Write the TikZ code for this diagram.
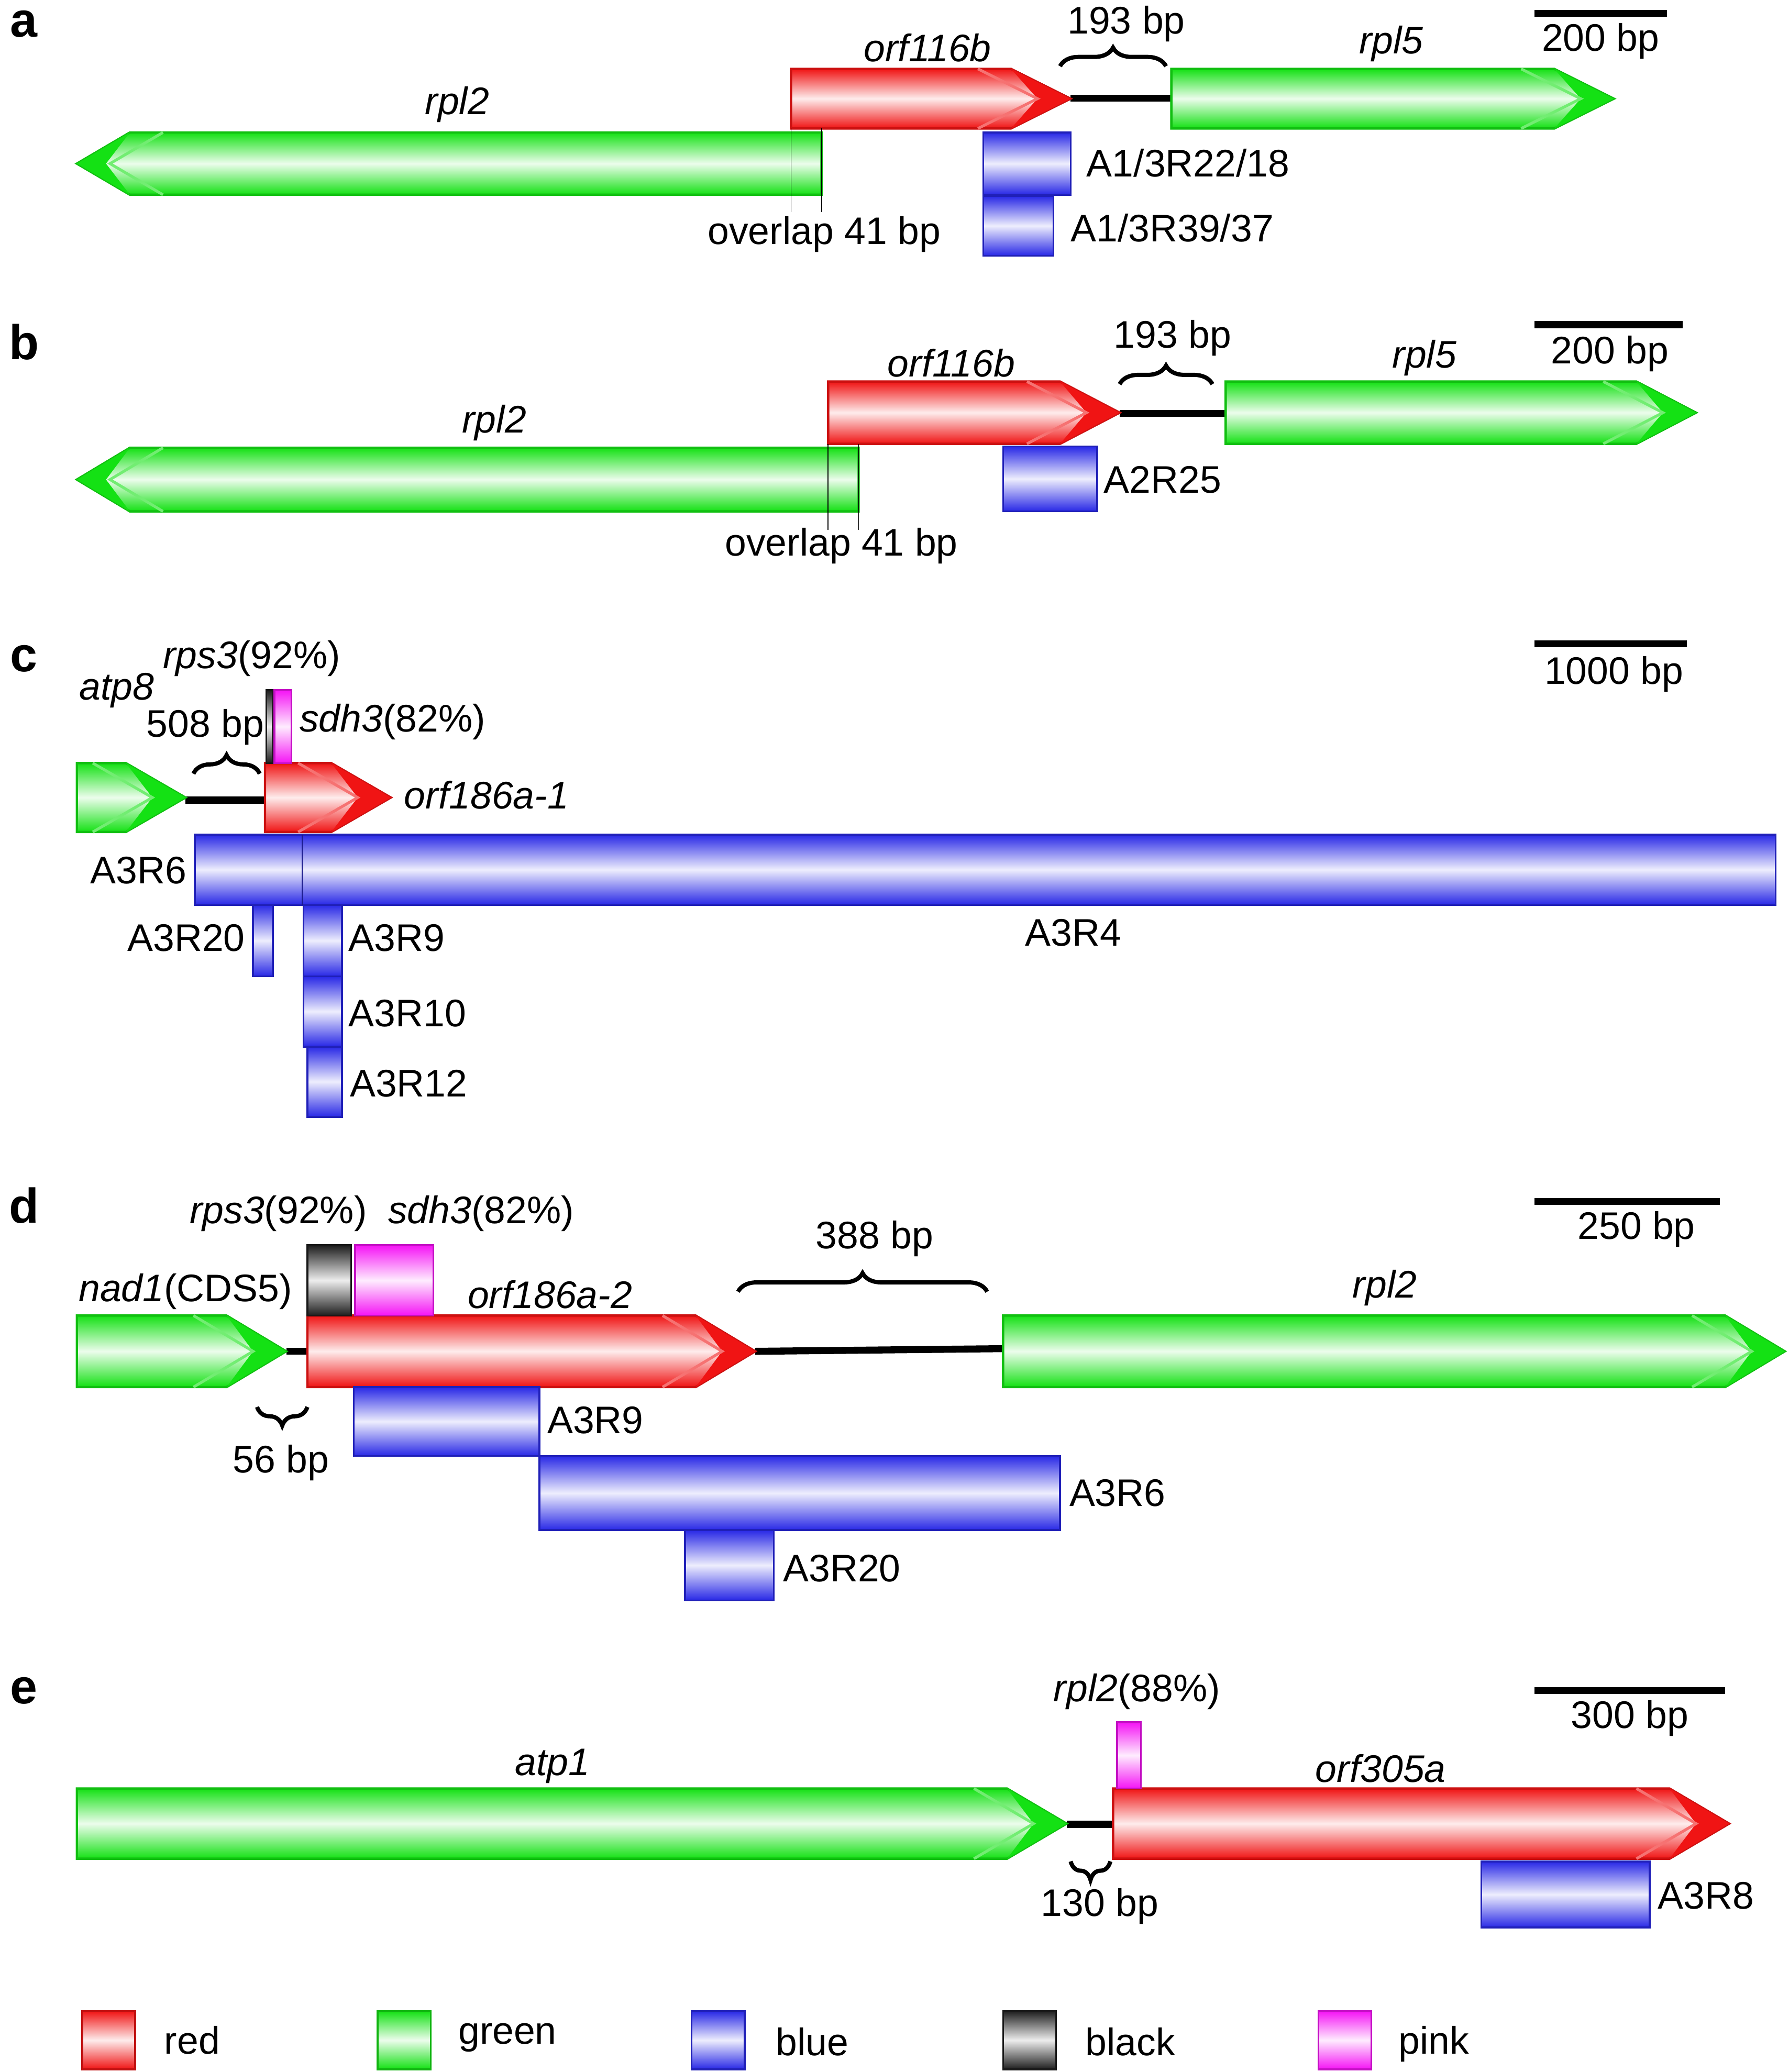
\documentclass[tikz,border=0pt]{standalone}
\usepackage{fontspec}
\setmainfont{Liberation Sans}
\usetikzlibrary{decorations.pathreplacing}
\definecolor{gR}{RGB}{240,20,20}
\definecolor{gG}{RGB}{20,225,20}
\definecolor{gB}{RGB}{40,40,230}
\definecolor{gP}{RGB}{245,20,245}
\definecolor{gK}{RGB}{30,30,30}
\newcommand\fgene[5]{% x1 x2 ytop ybot color
 \path[draw=#5!85!black,line width=1pt,top color=#5,bottom color=#5,middle color=#5!8]
  (#1,#3)--({#2-45},#3)--(#2,{(#3+#4)/2})--({#2-45},#4)--(#1,#4)--cycle;
 \fill[#5] ({#2-45},#3)--(#2,{(#3+#4)/2})--({#2-45},#4)--({#2-25},{(#3+#4)/2})--cycle;
 \draw[#5!60!white,line width=1.2pt] ({#2-70},#3)--({#2-25},{(#3+#4)/2})--({#2-70},#4);}
\newcommand\rgene[5]{% x1(tip) x2 ytop ybot color
 \path[draw=#5!85!black,line width=1pt,top color=#5,bottom color=#5,middle color=#5!8]
  (#2,#3)--({#1+40},#3)--(#1,{(#3+#4)/2})--({#1+40},#4)--(#2,#4)--cycle;
 \fill[#5] ({#1+40},#3)--(#1,{(#3+#4)/2})--({#1+40},#4)--({#1+22},{(#3+#4)/2})--cycle;
 \draw[#5!60!white,line width=1.2pt] ({#1+65},#3)--({#1+25},{(#3+#4)/2})--({#1+65},#4);}
\newcommand\bx[5]{%
 \path[draw=#5!80!black,line width=0.8pt,top color=#5,bottom color=#5,middle color=#5!8]
  (#1,#3) rectangle (#2,#4);}
\tikzset{lab/.style={font=\fontsize{16.5}{18}\selectfont,inner sep=1pt},
 it/.style={lab,font=\fontsize{16.5}{18}\selectfont\itshape},
 pl/.style={font=\fontsize{21}{23}\selectfont\bfseries},
 link/.style={line width=3pt,black},
 bar/.style={line width=3pt},
 br/.style={decorate,decoration={brace,amplitude=8pt},line width=1.8pt},
 brm/.style={decorate,decoration={brace,amplitude=8pt,mirror},line width=1.8pt}}
\begin{document}
\begin{tikzpicture}[x=0.02cm,y=-0.02cm]
\useasboundingbox (0,0) rectangle (1350,1564);
% ---------- a
\node[pl] (pa) at (18,18) {a};
\draw[bar] (1158,10)--(1258,10); \node[lab] at (1208,31) {200 bp};
\node[it] at (700,36) {orf116b}; \node[it] at (345,79) {rpl2}; \node[it] at (1050,33) {rpl5};
\coordinate (a1) at (808,74); \coordinate (a2) at (884,74);
\draw[link] (a1)--(a2);
\fgene{597}{808}{52}{97}{gR}
\fgene{884}{1218}{52}{97}{gG}
\rgene{58}{620}{100}{147}{gG}
\draw (597,97)--(597,160) (620,97)--(620,160);
\node[lab] at (622,177) {overlap 41 bp};
\draw[br] (800,50)--(880,50); \node[lab] at (850,18) {193 bp};
\bx{742}{808}{100}{147}{gB} \node[lab,anchor=west] at (818,123) {A1/3R22/18};
\bx{742}{795}{148}{193}{gB} \node[lab,anchor=west] at (806,172) {A1/3R39/37};
% ---------- b
\node[pl] at (18,258) {b};
\draw[bar] (1158,245)--(1270,245); \node[lab] at (1215,267) {200 bp};
\node[it] at (718,274) {orf116b}; \node[it] at (373,319) {rpl2}; \node[it] at (1075,270) {rpl5};
\coordinate (b1) at (845,312); \coordinate (b2) at (925,312);
\draw[link] (b1)--(b2);
\fgene{625}{845}{288}{335}{gR}
\fgene{925}{1280}{288}{335}{gG}
\rgene{58}{648}{338}{386}{gG}
\draw (625,335)--(625,400) (648,335)--(648,400);
\node[lab] at (635,412) {overlap 41 bp};
\draw[br] (845,290)--(915,290); \node[lab] at (885,255) {193 bp};
\bx{757}{828}{337}{386}{gB} \node[lab,anchor=west] at (831,362) {A2R25};
% ---------- c
\node[pl] at (18,497) {c};
\draw[bar] (1158,486)--(1273,486); \node[lab] at (1218,509) {1000 bp};
\coordinate (c1) at (140,604); \coordinate (c2) at (205,604);
\draw[link] (c1)--(c2);
\fgene{58}{140}{576}{628}{gG}
\fgene{200}{295}{576}{628}{gR}
\bx{201}{206}{521}{576}{gK}
\bx{207}{220}{521}{576}{gP}
\node[lab] at (190,497) {\textit{rps3}(92\%)};
\node[lab,anchor=west] at (224,545) {\textit{sdh3}(82\%)};
\node[it] at (88,521) {atp8};
\node[lab] at (155,549) {508 bp};
\draw[br] (146,584)--(196,584);
\node[it,anchor=west] at (303,600) {orf186a-1};
\bx{147}{1340}{630}{683}{gB}
\draw[gB!60!black] (228,630)--(228,683);
\node[lab,anchor=east] at (143,657) {A3R6};
\node[lab] at (810,704) {A3R4};
\bx{191}{206}{683}{737}{gB} \node[lab,anchor=east] at (187,708) {A3R20};
\bx{229}{258}{683}{737}{gB} \node[lab,anchor=west] at (261,708) {A3R9};
\bx{229}{258}{737}{790}{gB} \node[lab,anchor=west] at (261,765) {A3R10};
\bx{232}{258}{790}{843}{gB} \node[lab,anchor=west] at (262,818) {A3R12};
% ---------- d
\node[pl] at (18,910) {d};
\draw[bar] (1158,907)--(1298,907); \node[lab] at (1235,928) {250 bp};
\coordinate (d1) at (216,1020); \coordinate (d2) at (232,1020);
\coordinate (d3) at (570,1020); \coordinate (d4) at (757,1018);
\draw[link] (d1)--(d2); \draw[link] (d3)--(d4);
\fgene{58}{216}{993}{1047}{gG}
\fgene{232}{570}{993}{1047}{gR}
\fgene{757}{1347}{993}{1047}{gG}
\bx{232}{265}{940}{993}{gK}
\bx{268}{327}{940}{993}{gP}
\node[lab] at (210,916) {\textit{rps3}(92\%)};
\node[lab] at (363,916) {\textit{sdh3}(82\%)};
\node[lab] at (140,975) {\textit{nad1}(CDS5)};
\node[it] at (415,977) {orf186a-2};
\node[it] at (1045,972) {rpl2};
\draw[br] (557,975)--(745,975); \node[lab] at (660,935) {388 bp};
\draw[brm] (194,1062)--(232,1062); \node[lab] at (212,1104) {56 bp};
\bx{267}{407}{1047}{1099}{gB} \node[lab,anchor=west] at (411,1072) {A3R9};
\bx{407}{800}{1099}{1155}{gB} \node[lab,anchor=west] at (805,1127) {A3R6};
\bx{517}{584}{1155}{1208}{gB} \node[lab,anchor=west] at (589,1184) {A3R20};
% ---------- e
\node[pl] at (18,1276) {e};
\draw[bar] (1158,1276)--(1302,1276); \node[lab] at (1230,1297) {300 bp};
\coordinate (e1) at (805,1377); \coordinate (e2) at (840,1377);
\draw[link] (e1)--(e2);
\fgene{58}{805}{1350}{1403}{gG}
\fgene{840}{1305}{1350}{1403}{gR}
\bx{843}{861}{1300}{1350}{gP}
\node[lab] at (858,1277) {\textit{rpl2}(88\%)};
\node[it] at (417,1333) {atp1};
\node[it] at (1042,1335) {orf305a};
\draw[brm] (808,1405)--(838,1405); \node[lab] at (830,1439) {130 bp};
\bx{1118}{1245}{1405}{1455}{gB} \node[lab,anchor=west] at (1249,1431) {A3R8};
% ---------- legend
\bx{62}{102}{1518}{1562}{gR} \node[lab] at (145,1540) {red};
\bx{285}{325}{1518}{1562}{gG} \node[lab] at (383,1538) {green};
\bx{522}{562}{1518}{1562}{gB} \node[lab] at (613,1541) {blue};
\bx{757}{797}{1518}{1562}{gK} \node[lab] at (853,1541) {black};
\bx{995}{1035}{1518}{1562}{gP} \node[lab] at (1082,1543) {pink};
\end{tikzpicture}
\end{document}
